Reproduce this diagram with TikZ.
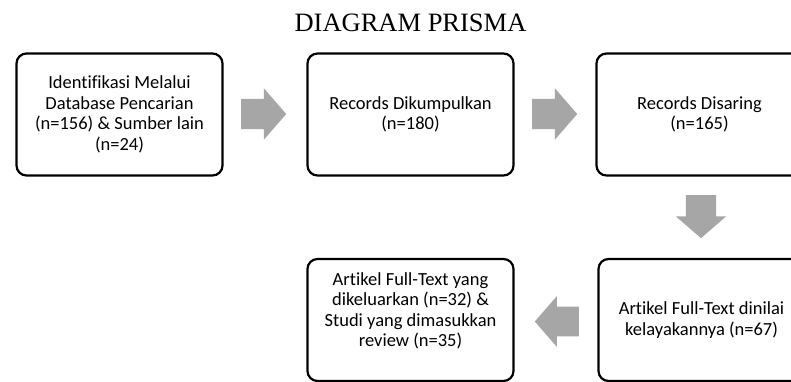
\documentclass[tikz,border=0pt]{standalone}
\usepackage{fontspec}
\setmainfont{Carlito}[Ligatures=NoCommon]
\newfontfamily\titlefont{Liberation Serif}
\usetikzlibrary{shapes.arrows}
\definecolor{arrowgray}{RGB}{166,166,166}
\begin{document}
\begin{tikzpicture}[x=1pt,y=-1pt,
    stagebox/.style={draw,line width=2.2pt,rounded corners=10pt,minimum width=206pt,minimum height=122pt,align=center,inner sep=0pt,font=\fontsize{18.5}{20.5}\selectfont},
    blockarrow/.style={single arrow,fill=arrowgray,draw=none,anchor=tail,inner xsep=0pt,inner ysep=15pt,minimum width=51pt,minimum height=45pt,single arrow head extend=10.5pt,single arrow tip angle=98}]
    \useasboundingbox (0,0) rectangle (791,381);
    \clip (0,0) rectangle (791,381);
    \node[anchor=base] (title) at (410.5,31.5) {\titlefont\fontsize{26.5}{30}\selectfont DIAGRAM PRISMA};
    % top row
    \node[stagebox] (ident) at (119.5,114.5) {Identifikasi Melalui\\Database Pencarian\\(n=156) \& Sumber lain\\(n=24)};
    \node[stagebox] (kumpul) at (410.5,114.5) {Records Dikumpulkan\\(n=180)};
    \node[stagebox] (saring) at (699.5,114.5) {Records Disaring\\(n=165)};
    % bottom row
    \node[stagebox] (nilai) at (701.5,320) {Artikel Full-Text dinilai\\kelayakannya (n=67)};
    \node[stagebox] (review) at (410.5,320) {Artikel Full-Text yang\\dikeluarkan (n=32) \&\\Studi yang dimasukkan\\review (n=35)\\\mbox{}};
    % block arrows
    \node[blockarrow] (a1) at (241,114) {};
    \node[blockarrow] (a2) at (532,114) {};
    \node[blockarrow,shape border rotate=270,inner xsep=15pt,inner ysep=0pt,minimum width=50pt,minimum height=43pt,single arrow head extend=10pt] (a3) at (701,195) {};
    \node[blockarrow,shape border rotate=180,minimum height=44pt,inner ysep=14.5pt] (a4) at (579,321.5) {};
\end{tikzpicture}
\end{document}
